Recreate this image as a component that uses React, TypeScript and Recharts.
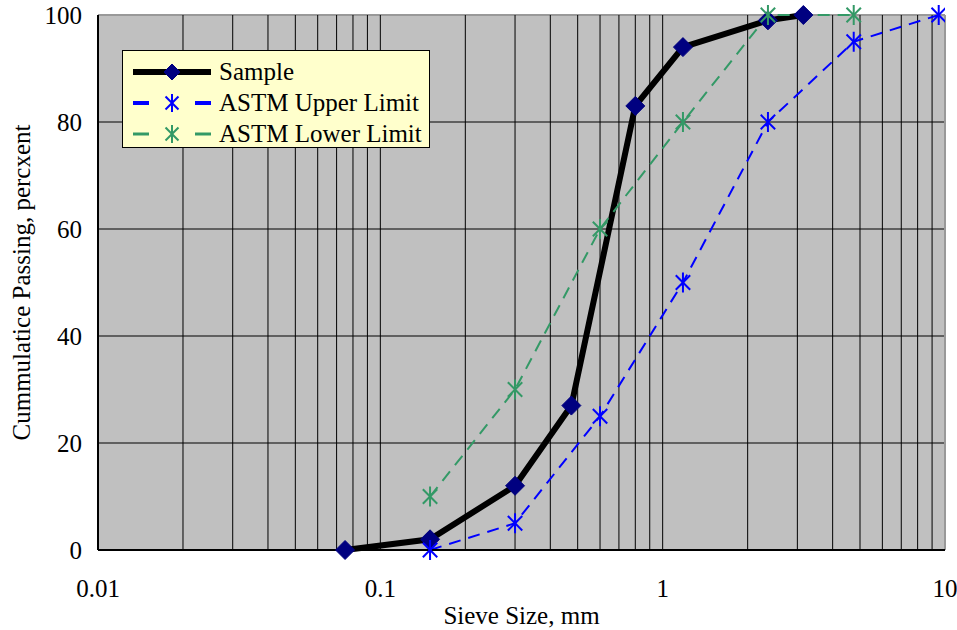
import { LineChart, Line, XAxis, YAxis, CartesianGrid } from 'recharts'

// sieve sizes (mm) and cumulative passing (%)
const sampleSize = [0.075, 0.15, 0.3, 0.475, 0.8, 1.18, 2.36, 3.15]
const samplePassing = [0, 2, 12, 27, 83, 94, 99, 100]

const upperSize = [0.15, 0.3, 0.6, 1.18, 2.36, 4.75, 9.5]
const upperPassing = [0, 5, 25, 50, 80, 95, 100]

const lowerSize = [0.15, 0.3, 0.6, 1.18, 2.36, 4.75]
const lowerPassing = [10, 30, 60, 80, 100, 100]

const decadeTicks = [0.01, 0.1, 1, 10]
const gridTicks = [
  0.01, 0.02, 0.03, 0.04, 0.05, 0.06, 0.07, 0.08, 0.09,
  0.1, 0.2, 0.3, 0.4, 0.5, 0.6, 0.7, 0.8, 0.9,
  1, 2, 3, 4, 5, 6, 7, 8, 9, 10
]
const yTicks = [0, 20, 40, 60, 80, 100]

const toRows = (sizes: number[], passing: number[]) =>
  sizes.map((size, i) => ({ size, passing: passing[i] }))

const sampleData = toRows(sampleSize, samplePassing)
const upperData = toRows(upperSize, upperPassing)
const lowerData = toRows(lowerSize, lowerPassing)

const FONT = '"Liberation Serif", "Times New Roman", serif'
const FS = 25
const NAVY = '#000080'
const BLUE = '#0000ff'
const GREEN = '#339966'

function Diamond({ cx, cy, r = 9.5 }: { cx: number; cy: number; r?: number }) {
  return (
    <polygon
      points={`${cx},${cy - r} ${cx + r},${cy} ${cx},${cy + r} ${cx - r},${cy}`}
      fill={NAVY}
      stroke={NAVY}
    />
  )
}

function Asterisk({ cx, cy, color, r = 10 }: { cx: number; cy: number; color: string; r?: number }) {
  const d = r * 0.72
  return (
    <g stroke={color} strokeWidth={2}>
      <line x1={cx} y1={cy - r} x2={cx} y2={cy + r} />
      <line x1={cx - d} y1={cy - d} x2={cx + d} y2={cy + d} />
      <line x1={cx - d} y1={cy + d} x2={cx + d} y2={cy - d} />
    </g>
  )
}

const legendItems = [
  { name: 'Sample', kind: 'sample' },
  { name: 'ASTM Upper Limit', kind: 'upper' },
  { name: 'ASTM Lower Limit', kind: 'lower' }
]

function LegendSwatch({ kind }: { kind: string }) {
  if (kind === 'sample') {
    return (
      <svg width={80} height={20}>
        <line x1={0} y1={10} x2={78} y2={10} stroke="#000" strokeWidth={6} />
        <Diamond cx={39} cy={10} r={8} />
      </svg>
    )
  }
  const color = kind === 'upper' ? BLUE : GREEN
  const w = kind === 'upper' ? 4 : 3
  return (
    <svg width={80} height={20}>
      <line x1={0} y1={10} x2={16} y2={10} stroke={color} strokeWidth={w} />
      <line x1={62} y1={10} x2={78} y2={10} stroke={color} strokeWidth={w} />
      <Asterisk cx={39} cy={10} color={color} r={9} />
    </svg>
  )
}

function ChartLegend() {
  return (
    <div
      style={{
        position: 'absolute',
        left: 122,
        top: 50,
        width: 308,
        height: 98,
        background: '#ffffcc',
        border: '1.5px solid #000',
        fontFamily: FONT,
        fontSize: FS,
        paddingTop: 5,
        boxSizing: 'border-box',
        whiteSpace: 'nowrap'
      }}
    >
      {legendItems.map((item) => (
        <div key={item.name} style={{ display: 'flex', alignItems: 'center', height: 31 }}>
          <div style={{ width: 10 }} />
          <LegendSwatch kind={item.kind} />
          <span style={{ marginLeft: 6, lineHeight: '31px' }}>{item.name}</span>
        </div>
      ))}
    </div>
  )
}

export default function App() {
  return (
    <div style={{ position: 'absolute', left: 0, top: 0, width: 957, height: 630, background: '#fff' }}>
      <LineChart
        width={957}
        height={630}
        margin={{ top: 15, right: 12, bottom: 0, left: 0 }}
        style={{ fontFamily: FONT }}
      >
        <CartesianGrid
          fill="#c0c0c0"
          fillOpacity={1}
          horizontal={(p: any) => (
            <line
              key={`h-${p.index}`}
              x1={p.x1}
              y1={p.y1}
              x2={p.x2}
              y2={p.y2}
              stroke={p.y1 < 20 ? '#999' : '#000'}
              strokeWidth={p.y1 < 20 ? 2 : 1}
            />
          )}
          vertical={(p: any) => (
            <line
              key={`v-${p.index}`}
              x1={p.x1}
              y1={p.y1}
              x2={p.x2}
              y2={p.y2}
              stroke={p.x1 > 940 ? '#999' : '#000'}
              strokeWidth={p.x1 > 940 ? 2 : 1}
            />
          )}
        />
        <XAxis
          type="number"
          dataKey="size"
          scale="log"
          domain={[0.01, 10]}
          ticks={gridTicks}
          interval={0}
          allowDataOverflow
          height={80}
          tickLine={false}
          tickMargin={23}
          axisLine={{ stroke: '#000', strokeWidth: 2 }}
          tick={{ fill: '#000', fontSize: FS, fontFamily: FONT }}
          tickFormatter={(v: number) => (decadeTicks.some((d) => Math.abs(d - v) < 1e-9) ? String(v) : '')}
          label={{
            content: ({ viewBox }: any) => (
              <text
                x={viewBox.x + viewBox.width / 2}
                y={viewBox.y + 74}
                textAnchor="middle"
                fontSize={FS}
                fontFamily={FONT}
                fill="#000"
              >
                Sieve Size, mm
              </text>
            )
          }}
        />
        <YAxis
          type="number"
          domain={[0, 100]}
          ticks={yTicks}
          interval={0}
          width={98}
          tickLine={false}
          tickMargin={10}
          axisLine={{ stroke: '#000', strokeWidth: 2 }}
          tick={{ fill: '#000', fontSize: FS, fontFamily: FONT }}
          label={{
            content: ({ viewBox }: any) => {
              const cx = 30
              const cy = viewBox.y + viewBox.height / 2
              return (
                <text
                  x={cx}
                  y={cy}
                  transform={`rotate(-90, ${cx}, ${cy})`}
                  textAnchor="middle"
                  fontSize={FS}
                  fontFamily={FONT}
                  fill="#000"
                >
                  Cummulatice Passing, percxent
                </text>
              )
            }
          }}
        />
        <Line
          data={sampleData}
          dataKey="passing"
          type="linear"
          stroke="#000"
          strokeWidth={6}
          isAnimationActive={false}
          dot={(p: any) => <Diamond key={`s-${p.index}`} cx={p.cx} cy={p.cy} />}
          activeDot={false}
        />
        <Line
          data={upperData}
          dataKey="passing"
          type="linear"
          stroke={BLUE}
          strokeWidth={2}
          strokeDasharray="12 8"
          isAnimationActive={false}
          dot={(p: any) => <Asterisk key={`u-${p.index}`} cx={p.cx} cy={p.cy} color={BLUE} />}
          activeDot={false}
        />
        <Line
          data={lowerData}
          dataKey="passing"
          type="linear"
          stroke={GREEN}
          strokeWidth={2}
          strokeDasharray="12 8"
          isAnimationActive={false}
          dot={(p: any) => <Asterisk key={`l-${p.index}`} cx={p.cx} cy={p.cy} color={GREEN} />}
          activeDot={false}
        />
      </LineChart>
      <ChartLegend />
    </div>
  )
}
